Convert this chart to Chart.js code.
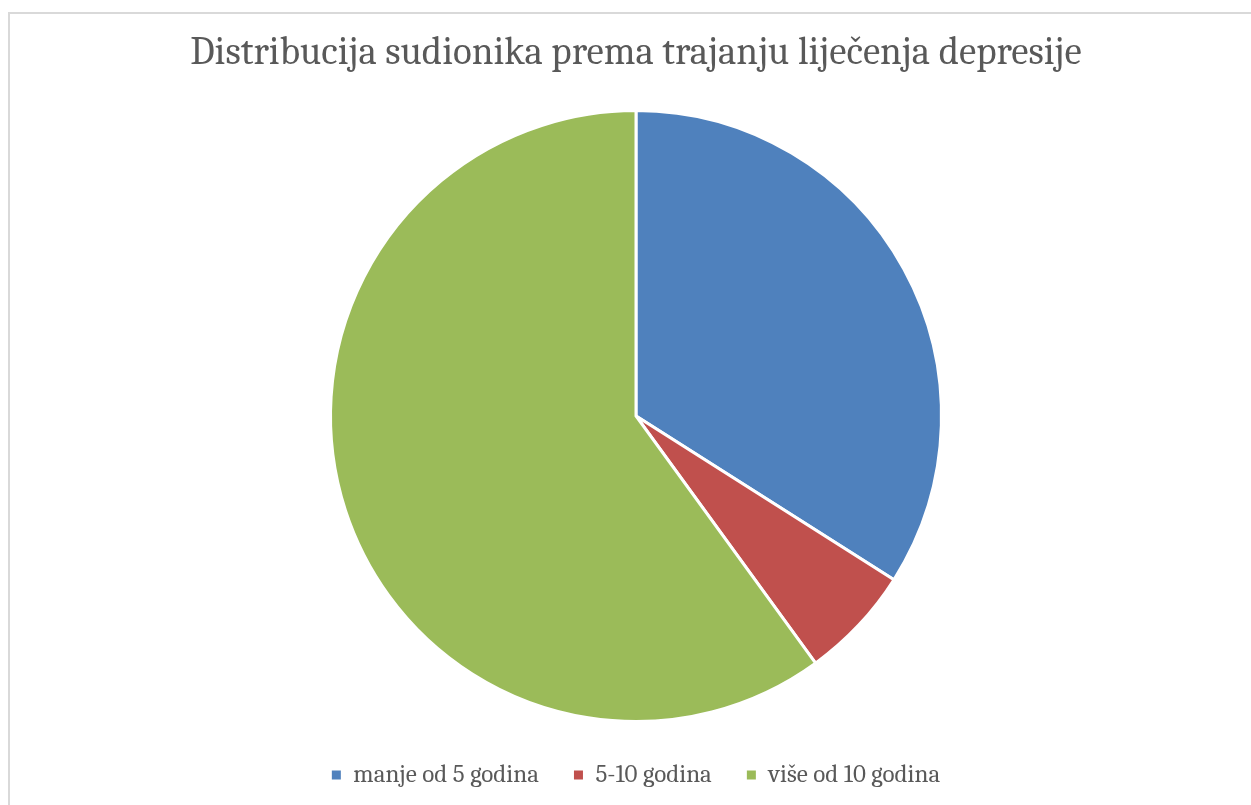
<!DOCTYPE html>
<html>
<head>
<meta charset="utf-8">
<script src="https://cdn.jsdelivr.net/npm/chart.js@4/dist/chart.umd.min.js"></script>
<style>
  html, body { margin: 0; padding: 0; background: #ffffff; overflow: hidden; width: 1251px; height: 805px; }
  #frame { position: absolute; left: 8px; top: 12px; width: 1300px; height: 900px; border-left: 2px solid #d9d9d9; border-top: 2px solid #d9d9d9; box-sizing: border-box; }
  #c { position: absolute; left: 0; top: 0; }
</style>
</head>
<body>
<div id="frame"></div>
<canvas id="c" width="1251" height="805"></canvas>
<script>
const chartTitle = "Distribucija sudionika prema trajanju liječenja depresije";
const categories = ["manje od 5 godina", "5-10 godina", "više od 10 godina"];
const participants = [17, 3, 30];
const sliceColors = ["#4F81BD", "#C0504D", "#9BBB59"];

const serif = "Cambria, 'Liberation Serif', serif";

new Chart(document.getElementById('c'), {
  type: 'pie',
  data: {
    labels: categories,
    datasets: [{
      data: participants,
      backgroundColor: sliceColors,
      borderColor: '#ffffff',
      borderWidth: 3,
      borderJoinStyle: 'miter',
      radius: 305.5
    }]
  },
  options: {
    responsive: false,
    animation: false,
    layout: { padding: { left: 21, right: 0, top: 0, bottom: 7.5 } },
    plugins: {
      title: {
        display: true,
        text: chartTitle,
        color: '#595959',
        font: { family: serif, size: 39, weight: 'normal' },
        padding: { top: 30, bottom: 27.7 }
      },
      legend: {
        position: 'bottom',
        labels: {
          color: '#595959',
          font: { family: serif, size: 25 },
          boxWidth: 9,
          boxHeight: 9,
          padding: 35,
          generateLabels: (chart) => {
            const base = Chart.overrides.pie.plugins.legend.labels.generateLabels(chart);
            return base.map(l => Object.assign({}, l, { lineWidth: 0, strokeStyle: 'rgba(0,0,0,0)' }));
          }
        }
      },
      tooltip: { enabled: false }
    }
  }
});
</script>
</body>
</html>
